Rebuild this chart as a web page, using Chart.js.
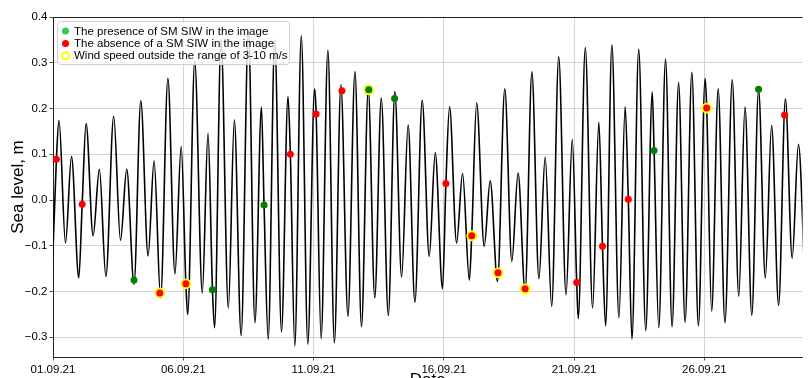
<!DOCTYPE html>
<html>
<head>
<meta charset="utf-8">
<script src="https://cdn.jsdelivr.net/npm/chart.js@4.4.1/dist/chart.umd.min.js"></script>
<style>
    html, body { margin: 0; padding: 0; background: #fff; overflow: hidden; }
    #wrap { width: 808px; height: 392px; position: relative; }
</style>
</head>
<body>
<div id="wrap"><canvas id="tideChart"></canvas></div>
<script>
// Tide gauge: turning points of the sea level curve (days since 01.09.21, metres)
const tideDays = [
    -0.03, 0.23, 0.48, 0.71, 0.99, 1.27, 1.54, 1.78, 2.03, 2.33, 2.59, 2.83,
    3.11, 3.37, 3.65, 3.88, 4.13, 4.41, 4.68, 4.92, 5.17, 5.44, 5.73, 5.95,
    6.20, 6.45, 6.73, 6.96, 7.22, 7.50, 7.75, 8.00, 8.26, 8.51, 8.77, 9.02,
    9.28, 9.53, 9.78, 10.04, 10.29, 10.55, 10.80, 11.05, 11.32, 11.59, 11.84, 12.10,
    12.35, 12.60, 12.87, 13.12, 13.38, 13.63, 13.89, 14.17, 14.44, 14.67, 14.95, 15.22,
    15.49, 15.72, 15.98, 16.26, 16.55, 16.78, 17.06, 17.34, 17.61, 17.85, 18.12, 18.38,
    18.65, 18.89, 19.14, 19.41, 19.69, 19.93, 20.16, 20.43, 20.71, 20.95, 21.21, 21.45,
    21.72, 21.96, 22.22, 22.48, 22.75, 23.00, 23.25, 23.51, 23.76, 24.01, 24.26, 24.52,
    24.77, 25.03, 25.28, 25.53, 25.79, 26.07, 26.32, 26.56, 26.82, 27.08, 27.34, 27.58,
    27.85, 28.11, 28.37, 28.61, 28.87
];
const tideLevel = [
    -0.160, 0.174, -0.094, 0.095, -0.170, 0.167, -0.078, 0.067, -0.167, 0.183, -0.088, 0.067,
    -0.184, 0.217, -0.122, 0.086, -0.214, 0.266, -0.161, 0.117, -0.250, 0.304, -0.203, 0.146,
    -0.279, 0.350, -0.236, 0.175, -0.296, 0.370, -0.268, 0.203, -0.304, 0.350, -0.288, 0.226,
    -0.319, 0.359, -0.315, 0.243, -0.303, 0.328, -0.312, 0.252, -0.254, 0.281, -0.277, 0.243,
    -0.214, 0.223, -0.252, 0.237, -0.168, 0.164, -0.223, 0.218, -0.123, 0.103, -0.194, 0.204,
    -0.094, 0.058, -0.175, 0.212, -0.101, 0.042, -0.178, 0.243, -0.134, 0.059, -0.199, 0.280,
    -0.172, 0.094, -0.232, 0.313, -0.207, 0.132, -0.259, 0.333, -0.236, 0.170, -0.275, 0.339,
    -0.257, 0.204, -0.304, 0.330, -0.285, 0.236, -0.279, 0.308, -0.277, 0.257, -0.267, 0.279,
    -0.275, 0.266, -0.243, 0.243, -0.268, 0.263, -0.210, 0.203, -0.252, 0.242, -0.170, 0.163,
    -0.230, 0.221, -0.127, 0.122, -0.200
];

// Satellite scenes: time, sea level, SM SIW seen (1/0), wind outside 3-10 m/s (1/0)
const obsDays = [0.13, 1.12, 3.11, 4.10, 5.10, 6.12, 8.10, 9.11, 10.10, 11.09, 12.12, 13.11,
    15.08, 16.07, 17.08, 18.12, 20.10, 21.09, 22.08, 23.07, 25.09, 27.08, 28.08];
const obsLevel = [0.089, -0.009, -0.175, -0.203, -0.183, -0.196, -0.011, 0.100, 0.188, 0.239, 0.241, 0.222,
    0.036, -0.078, -0.159, -0.194, -0.180, -0.101, 0.002, 0.108, 0.201, 0.242, 0.186];
const obsSiw = [0, 0, 1, 0, 0, 1, 1, 0, 0, 0, 1, 1, 0, 0, 0, 0, 0, 0, 0, 1, 0, 1, 0];
const obsWindOut = [0, 0, 0, 1, 1, 0, 0, 0, 0, 0, 1, 0, 0, 1, 1, 1, 0, 0, 0, 0, 1, 0, 0];

const dateTicks = [0, 5, 10, 15, 20, 25];
const dateLabels = ['01.09.21', '06.09.21', '11.09.21', '16.09.21', '21.09.21', '26.09.21'];
const levelTicks = [-0.3, -0.2, -0.1, 0, 0.1, 0.2, 0.3, 0.4];

const legendLabels = [
    'The presence of SM SIW in the image',
    'The absence of a SM SIW in the image',
    'Wind speed outside the range of 3-10 m/s'
];

const FONT = "'Liberation Sans', Arial, sans-serif";

// the curve passes through the observed levels too
const lineData = tideDays.map((d, i) => ({ x: d, y: tideLevel[i] }));
obsDays.forEach((d, i) => {
    const nearTurn = tideDays.some(t => Math.abs(t - d) < 0.05);
    if (!nearTurn) lineData.push({ x: d, y: obsLevel[i] });
});
lineData.sort((a, b) => a.x - b.x);

const pick = (cond) => obsDays
    .map((d, i) => ({ x: d, y: obsLevel[i], i }))
    .filter(p => cond(p.i))
    .map(p => ({ x: p.x, y: p.y }));

// Legend box drawn inside the plot, matplotlib style
const legendBox = {
    id: 'legendBox',
    afterDraw(chart) {
        const { ctx, chartArea } = chart;
        const left = chartArea.left + 4, top = chartArea.top + 4;
        const w = 232, h = 43;
        ctx.save();
        ctx.beginPath();
        ctx.roundRect(left + 0.5, top + 0.5, w, h, 3);
        ctx.fillStyle = 'rgba(255,255,255,0.8)';
        ctx.fill();
        ctx.strokeStyle = '#d0d0d0';
        ctx.lineWidth = 1;
        ctx.stroke();

        ctx.font = '11.5px ' + FONT;
        ctx.textBaseline = 'middle';
        legendLabels.forEach((txt, k) => {
            const cy = top + 10 + k * 12.4;
            const cx = left + 8.5;
            ctx.beginPath();
            if (k === 2) {
                ctx.arc(cx, cy, 3.5, 0, Math.PI * 2);
                ctx.strokeStyle = '#ffff00';
                ctx.lineWidth = 2;
                ctx.stroke();
            } else {
                ctx.arc(cx, cy, 3.5, 0, Math.PI * 2);
                ctx.fillStyle = k === 0 ? '#2ecc55' : '#ff0000';
                ctx.fill();
            }
            ctx.fillStyle = '#000';
            ctx.fillText(txt, left + 17, cy + 0.5);
        });
        ctx.restore();
    }
};

// Top spine
const topSpine = {
    id: 'topSpine',
    afterDatasetsDraw(chart) {
        const { ctx, chartArea } = chart;
        ctx.save();
        ctx.strokeStyle = '#222';
        ctx.lineWidth = 1;
        ctx.beginPath();
        ctx.moveTo(chartArea.left, chartArea.top + 0.5);
        ctx.lineTo(chartArea.right, chartArea.top + 0.5);
        ctx.stroke();
        ctx.restore();
    }
};

const ctx = document.getElementById('tideChart').getContext('2d');
new Chart(ctx, {
    type: 'line',
    data: {
        datasets: [{
            type: 'line',
            data: lineData,
            borderColor: '#000',
            borderWidth: 1.6,
            pointRadius: 0,
            fill: false,
            cubicInterpolationMode: 'monotone',
            order: 4
        }, {
            type: 'scatter',
            data: pick(i => obsWindOut[i] === 1),
            backgroundColor: '#ffff00',
            borderWidth: 0,
            pointRadius: 5.4,
            order: 3
        }, {
            type: 'scatter',
            data: pick(i => obsSiw[i] === 0),
            backgroundColor: '#ff0000',
            borderWidth: 0,
            pointRadius: 3.5,
            order: 2
        }, {
            type: 'scatter',
            data: pick(i => obsSiw[i] === 1),
            backgroundColor: '#008000',
            borderWidth: 0,
            pointRadius: 3.5,
            order: 1
        }]
    },
    options: {
        responsive: true,
        maintainAspectRatio: false,
        animation: false,
        devicePixelRatio: 1,
        layout: {
            padding: { top: 17, right: 0, left: 0, bottom: 0 }
        },
        plugins: {
            legend: { display: false },
            tooltip: { enabled: false }
        },
        scales: {
            x: {
                type: 'linear',
                min: 0,
                max: 28.77,
                afterBuildTicks: (scale) => {
                    scale.ticks = dateTicks.map(v => ({ value: v }));
                },
                afterFit: (scale) => { scale.height = 35; },
                ticks: {
                    autoSkip: false,
                    maxRotation: 0,
                    padding: 2,
                    color: '#000',
                    font: { family: FONT, size: 11.5 },
                    callback: (v) => dateLabels[dateTicks.indexOf(v)]
                },
                grid: {
                    color: '#c8c8c8',
                    lineWidth: 0.8,
                    tickColor: '#222',
                    tickLength: 3.5
                },
                border: { color: '#222', width: 1 },
                title: {
                    display: true,
                    text: 'Date',
                    color: '#000',
                    font: { family: FONT, size: 17 },
                    padding: { top: 0, bottom: 1 }
                }
            },
            y: {
                type: 'linear',
                min: -0.343,
                max: 0.4,
                afterBuildTicks: (scale) => {
                    scale.ticks = levelTicks.map(v => ({ value: v }));
                },
                afterFit: (scale) => { scale.width = 53; },
                ticks: {
                    padding: 2,
                    color: '#000',
                    font: { family: FONT, size: 11.5 },
                    callback: (v) => v.toFixed(1).replace('-', '\u2212')
                },
                grid: {
                    color: '#c8c8c8',
                    lineWidth: 0.8,
                    tickColor: '#222',
                    tickLength: 3.5
                },
                border: { color: '#222', width: 1 },
                title: {
                    display: true,
                    text: 'Sea level, m',
                    color: '#000',
                    font: { family: FONT, size: 17 },
                    padding: { top: 8, bottom: 0 }
                }
            }
        }
    },
    plugins: [legendBox, topSpine]
});
</script>
</body>
</html>
